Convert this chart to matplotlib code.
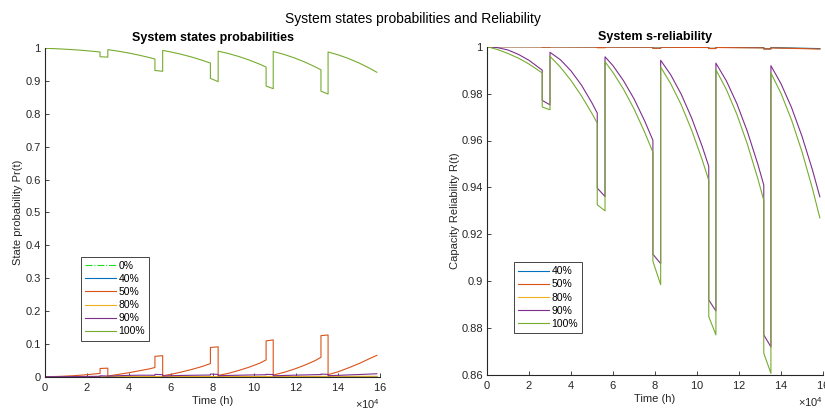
import numpy as np
import matplotlib
matplotlib.use('Agg')
import matplotlib.pyplot as plt
from matplotlib.ticker import FuncFormatter, MultipleLocator

plt.rcParams['font.family'] = ['Liberation Sans', 'DejaVu Sans']
plt.rcParams['mathtext.fontset'] = 'custom'
plt.rcParams['mathtext.rm'] = 'Liberation Sans'
plt.rcParams['mathtext.it'] = 'Liberation Sans:italic'

# time axis in units of 1e4 h (steps repeat a time value)
t_rel = [0, 0.5, 1.0, 1.5, 2.0, 2.63,
         2.63, 3.0,
         3.0, 3.5, 4.0, 4.5, 5.0, 5.25,
         5.25, 5.62,
         5.62, 6.0, 6.5, 7.0, 7.5, 7.9,
         7.9, 8.27,
         8.27, 8.75, 9.25, 9.75, 10.25, 10.56,
         10.56, 10.9,
         10.9, 11.4, 11.9, 12.4, 12.9, 13.18,
         13.18, 13.52,
         13.52, 14.0, 14.5, 15.0, 15.5, 15.85]

# capacity reliability >= 90%
r90 = [1.0, 0.9996, 0.9986, 0.9967, 0.9942, 0.9900,
       0.9771, 0.9752,
       0.9976, 0.9944, 0.9897, 0.9836, 0.9760, 0.9717,
       0.9397, 0.9361,
       0.9957, 0.9919, 0.9855, 0.9778, 0.9685, 0.9601,
       0.9115, 0.9075,
       0.9942, 0.9880, 0.9797, 0.9695, 0.9574, 0.9490,
       0.8920, 0.8873,
       0.9930, 0.9854, 0.9757, 0.9638, 0.9498, 0.9410,
       0.8771, 0.8720,
       0.9919, 0.9842, 0.9741, 0.9618, 0.9474, 0.9360]

# capacity reliability 100% (= state probability of 100%)
r100 = [1.0, 0.9988, 0.9971, 0.9951, 0.9926, 0.9888,
        0.9743, 0.9731,
        0.9959, 0.9912, 0.9856, 0.9790, 0.9715, 0.9674,
        0.9326, 0.9300,
        0.9936, 0.9890, 0.9819, 0.9735, 0.9637, 0.9550,
        0.9085, 0.8985,
        0.9913, 0.9842, 0.9752, 0.9643, 0.9517, 0.9430,
        0.8849, 0.8771,
        0.9902, 0.9817, 0.9711, 0.9584, 0.9436, 0.9345,
        0.8693, 0.8607,
        0.9888, 0.9801, 0.9688, 0.9552, 0.9394, 0.9270]

# state probability 50%
p50 = [0, 0.0006, 0.0018, 0.0036, 0.0062, 0.010,
       0.025, 0.026,
       0.002, 0.007, 0.012, 0.018, 0.024, 0.028,
       0.062, 0.064,
       0.003, 0.007, 0.014, 0.022, 0.031, 0.040,
       0.089, 0.091,
       0.004, 0.010, 0.019, 0.029, 0.041, 0.051,
       0.109, 0.112,
       0.005, 0.013, 0.023, 0.035, 0.049, 0.059,
       0.125, 0.127,
       0.006, 0.015, 0.027, 0.040, 0.055, 0.065]

# state probability 90%
p90 = [0, 0.0001, 0.0002, 0.0004, 0.0008, 0.0012,
       0.0028, 0.0021,
       0.0017, 0.0030, 0.0040, 0.0045, 0.0045, 0.0043,
       0.0071, 0.0061,
       0.0021, 0.0030, 0.0038, 0.0043, 0.0048, 0.0051,
       0.0080, 0.0070,
       0.0029, 0.0038, 0.0045, 0.0052, 0.0057, 0.0060,
       0.0071, 0.0066,
       0.0028, 0.0037, 0.0046, 0.0054, 0.0062, 0.0065,
       0.0078, 0.0072,
       0.0031, 0.0041, 0.0055, 0.0066, 0.0080, 0.0090]

# small states
t_low = [0, 4, 8, 12, 15.85]
p0 = [0, 0, 0, 0, 0]
p40 = [0, 0.0001, 0.0002, 0.0003, 0.0004]
p80 = [0, 0.0003, 0.0006, 0.0009, 0.0012]

# reliability for low demand levels (near 1)
t_top = [0, 2.63, 2.63, 3.0, 3.0, 5.25, 5.25, 5.62, 5.62, 7.9, 7.9, 8.27,
         8.27, 10.56, 10.56, 10.9, 10.9, 13.18, 13.18, 13.52, 13.52, 15.85]
r40 = [1.0, 0.99998, 0.9999, 0.9999, 0.99996, 0.9999, 0.9997, 0.9997,
       0.9999, 0.99985, 0.9994, 0.9994, 0.9998, 0.9997, 0.9993, 0.9993,
       0.9997, 0.9996, 0.9991, 0.9991, 0.9996, 0.9992]
r50 = [1.0, 0.99995, 0.9998, 0.9998, 0.99993, 0.99985, 0.9996, 0.9996,
       0.99985, 0.9998, 0.9993, 0.9993, 0.99975, 0.99965, 0.9992, 0.9992,
       0.99965, 0.9995, 0.9990, 0.9990, 0.9995, 0.9990]
r80 = [1.0, 0.99996, 0.9999, 0.9999, 0.99995, 0.9999, 0.9996, 0.9996,
       0.9999, 0.9998, 0.9994, 0.9994, 0.9998, 0.9997, 0.9993, 0.9993,
       0.9997, 0.9996, 0.9991, 0.9991, 0.9996, 0.9991]

c_blue = '#0072BD'
c_orange = '#D95319'
c_yellow = '#EDB120'
c_purple = '#7E2F8E'
c_green = '#77AC30'
c_text = '#262626'
lw = 0.8

def scale(t):
    return np.array(t) * 1e4

fig = plt.figure(figsize=(8.25, 4.13), dpi=100)
ax1 = fig.add_axes([45 / 825, 1 - 376.7 / 413, 335 / 825, 328.4 / 413])
ax2 = fig.add_axes([487 / 825, 1 - 375 / 413, 336 / 825, 328.3 / 413])

ax1.plot(scale(t_low), p0, '-.', color='#22dd22', lw=lw, label='0%')
ax1.plot(scale(t_low), p40, color=c_blue, lw=lw, label='40%')
ax1.plot(scale(t_rel), p50, color=c_orange, lw=lw, label='50%')
ax1.plot(scale(t_low), p80, color=c_yellow, lw=lw, label='80%')
ax1.plot(scale(t_rel), p90, color=c_purple, lw=lw, label='90%')
ax1.plot(scale(t_rel), r100, color=c_green, lw=lw, label='100%')
ax1.set_xlim(0, 16e4)
ax1.set_ylim(0, 1)
ax1.yaxis.set_major_locator(MultipleLocator(0.1))
ax1.set_title('System states probabilities', fontsize=9, fontweight='bold', color='black', pad=5)
ax1.set_xlabel('Time (h)', fontsize=8, color=c_text, labelpad=2)
ax1.set_ylabel('State probability Pr(t)', fontsize=8, color=c_text, labelpad=2)

ax2.plot(scale(t_top), r80, color=c_yellow, lw=lw, label='_80')
ax2.plot(scale(t_top), r40, color=c_blue, lw=lw, label='40%')
ax2.plot(scale(t_top), r50, color=c_orange, lw=lw, label='50%')
ax2.plot([], [], color=c_yellow, lw=lw, label='80%')
ax2.plot(scale(t_rel), r90, color=c_purple, lw=lw, label='90%')
ax2.plot(scale(t_rel), r100, color=c_green, lw=lw, label='100%')
ax2.set_xlim(0, 16e4)
ax2.set_ylim(0.86, 1)
ax2.yaxis.set_major_locator(MultipleLocator(0.02))
ax2.set_title('System s-reliability', fontsize=9, fontweight='bold', color='black', pad=5)
ax2.set_xlabel('Time (h)', fontsize=8, color=c_text, labelpad=2)
ax2.set_ylabel('Capacity Reliability R(t)', fontsize=8, color=c_text, labelpad=1)

fmt = FuncFormatter(lambda v, p: '%g' % round(v, 4))
for ax in (ax1, ax2):
    ax.xaxis.set_major_locator(MultipleLocator(2e4))
    ax.ticklabel_format(axis='x', style='sci', scilimits=(4, 4), useMathText=True)
    ax.yaxis.set_major_formatter(fmt)
    ax.spines['top'].set_visible(False)
    ax.spines['right'].set_visible(False)
    for s in ('left', 'bottom'):
        ax.spines[s].set_color(c_text)
        ax.spines[s].set_linewidth(0.8)
    ax.tick_params(direction='in', length=3, width=0.6, colors=c_text, labelsize=8, pad=3)
    ax.xaxis.get_offset_text().set_fontsize(8)
    ax.xaxis.get_offset_text().set_color(c_text)

leg1 = ax1.legend(loc='lower left', bbox_to_anchor=(0.107, 0.11), borderaxespad=0,
                  fontsize=7.5, handlelength=3.0, labelspacing=0.3, handletextpad=0.2,
                  borderpad=0.4, fancybox=False, frameon=True, framealpha=1)
leg1.get_frame().set_edgecolor(c_text)
leg1.get_frame().set_linewidth(0.6)

handles, labels = ax2.get_legend_handles_labels()
leg2 = ax2.legend(handles, labels, loc='lower left', bbox_to_anchor=(0.08, 0.128), borderaxespad=0,
                  fontsize=7.5, handlelength=3.0, labelspacing=0.3, handletextpad=0.2,
                  borderpad=0.4, fancybox=False, frameon=True, framealpha=1)
leg2.get_frame().set_edgecolor(c_text)
leg2.get_frame().set_linewidth(0.6)

fig.suptitle('System states probabilities and Reliability', fontsize=10, y=0.972, color='black')

fig.savefig('out.png', dpi=100)
